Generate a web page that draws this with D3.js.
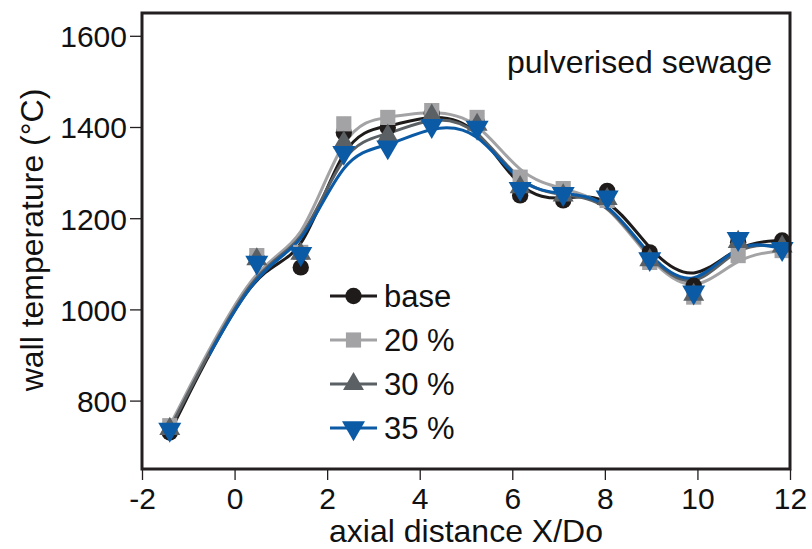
<!DOCTYPE html>
<html>
<head>
<meta charset="utf-8">
<script src="https://cdn.jsdelivr.net/npm/d3@7"></script>
<style>
  body { margin: 0; background: #fff; }
  svg { display: block; font-family: Arial, "Liberation Sans", sans-serif; }
</style>
</head>
<body>
<svg width="812" height="549"></svg>
<script>
// data
var xPos  = [-1.40, 0.48, 1.43, 2.36, 3.31, 4.26, 5.24, 6.17, 7.10, 8.05, 8.97, 9.92, 10.88, 11.83];
var base  = [730, 1112, 1092, 1388, 1399, 1429, 1410, 1250, 1239, 1260, 1125, 1052, 1147, 1151];
var pct20 = [745, 1118, 1125, 1407, 1421, 1436, 1421, 1290, 1265, 1239, 1103, 1027, 1118, 1129];
var pct30 = [738, 1110, 1122, 1366, 1381, 1425, 1405, 1268, 1250, 1242, 1108, 1032, 1148, 1138];
var pct35 = [737, 1103, 1122, 1344, 1356, 1403, 1399, 1265, 1254, 1246, 1111, 1038, 1155, 1133];
var seriesNames = ["base", "20 %", "30 %", "35 %"];
var xTicks = [-2, 0, 2, 4, 6, 8, 10, 12];
var yTicks = [800, 1000, 1200, 1400, 1600];
var blueLineFrom = -0.55;   // the 35 % curve only starts here

var svg = d3.select("svg"),
    margin = {top: 13, right: 22, bottom: 80, left: 142},
    width = svg.attr("width") - margin.left - margin.right,
    height = svg.attr("height") - margin.top - margin.bottom,
    g = svg.append("g").attr("transform", "translate(" + margin.left + "," + margin.top + ")");

var x = d3.scaleLinear().domain([-2, 12]).range([0, width]),
    y = d3.scaleLinear().domain([650, 1650]).range([height, 0]);

var colors = ["#1e1b1a", "#a3a3a5", "#5b6064", "#0b5aa6"];
var shapes = [d3.symbolCircle, d3.symbolSquare, d3.symbolTriangle, d3.symbolTriangle];
var sizes = [210, 230, 190, 230];
var rotate = [0, 0, 0, 180];

var dataset = [base, pct20, pct30, pct35].map(function(vals, i) {
  return {
    id: seriesNames[i],
    values: vals.map(function(v, j) { return {x: xPos[j], t: v}; })
  };
});

var line = d3.line()
    .curve(d3.curveBasis)
    .x(function(d) { return x(d.x); })
    .y(function(d) { return y(d.t); });

g.append("clipPath").attr("id", "blueclip")
  .append("rect")
    .attr("x", x(blueLineFrom)).attr("y", 0)
    .attr("width", width - x(blueLineFrom)).attr("height", height);

/* axes */
var xAxis = g.append("g")
    .attr("transform", "translate(0," + height + ")")
    .call(d3.axisBottom(x).tickValues(xTicks).tickSize(11).tickPadding(8)
      .tickFormat(function(d) { return String(d); }));
var yAxis = g.append("g")
    .call(d3.axisLeft(y).tickValues(yTicks).tickSize(12).tickPadding(3)
      .tickFormat(function(d) { return String(d); }));

[xAxis, yAxis].forEach(function(a) {
  a.select(".domain").remove();
  a.selectAll(".tick line").attr("stroke", "#231f20").attr("stroke-width", 1.3);
  a.selectAll(".tick text").attr("fill", "#111").style("font-size", "30px");
});
xAxis.selectAll(".tick text").attr("dy", "0.71em");
yAxis.selectAll(".tick text").attr("dy", "0.36em");

/* curves */
g.selectAll(".curve")
  .data(dataset)
  .enter().append("path")
    .attr("class", "curve")
    .attr("d", function(d) { return line(d.values); })
    .attr("fill", "none")
    .attr("stroke", function(d, i) { return colors[i]; })
    .attr("stroke-width", 3)
    .attr("clip-path", function(d, i) { return i === 3 ? "url(#blueclip)" : null; });

/* markers */
dataset.forEach(function(s, i) {
  g.selectAll(".m" + i)
    .data(s.values)
    .enter().append("path")
      .attr("class", "m" + i)
      .attr("d", d3.symbol().type(shapes[i]).size(sizes[i]))
      .attr("transform", function(d) {
        return "translate(" + x(d.x) + "," + y(d.t) + ") rotate(" + rotate[i] + ")";
      })
      .attr("fill", colors[i]);
});

/* frame */
g.append("rect")
    .attr("width", width).attr("height", height)
    .attr("fill", "none").attr("stroke", "#231f20").attr("stroke-width", 3);

/* legend */
var legend = g.selectAll(".legend")
  .data(dataset)
  .enter().append("g")
    .attr("class", "legend")
    .attr("transform", function(d, i) { return "translate(188," + (283 + i * 44) + ")"; });

legend.append("line")
    .attr("x1", 0).attr("x2", 47)
    .attr("stroke", function(d, i) { return colors[i]; })
    .attr("stroke-width", 3);
legend.append("path")
    .attr("d", function(d, i) { return d3.symbol().type(shapes[i]).size(sizes[i])(); })
    .attr("transform", function(d, i) { return "translate(23.5,0) rotate(" + rotate[i] + ")"; })
    .attr("fill", function(d, i) { return colors[i]; });
legend.append("text")
    .attr("x", 54).attr("y", 11)
    .style("font-size", "31px").attr("fill", "#111")
    .text(function(d) { return d.id; });

/* labels */
g.append("text")
    .attr("x", width - 18).attr("y", 60)
    .attr("text-anchor", "end")
    .style("font-size", "32px").attr("fill", "#111")
    .text("pulverised sewage");

svg.append("text")
    .attr("x", 466).attr("y", 542)
    .attr("text-anchor", "middle")
    .style("font-size", "32px").attr("fill", "#111")
    .text("axial distance X/Do");

svg.append("text")
    .attr("transform", "translate(43,240) rotate(-90)")
    .attr("text-anchor", "middle")
    .style("font-size", "32px").attr("fill", "#111")
    .text("wall temperature (°C)");
</script>
</body>
</html>
